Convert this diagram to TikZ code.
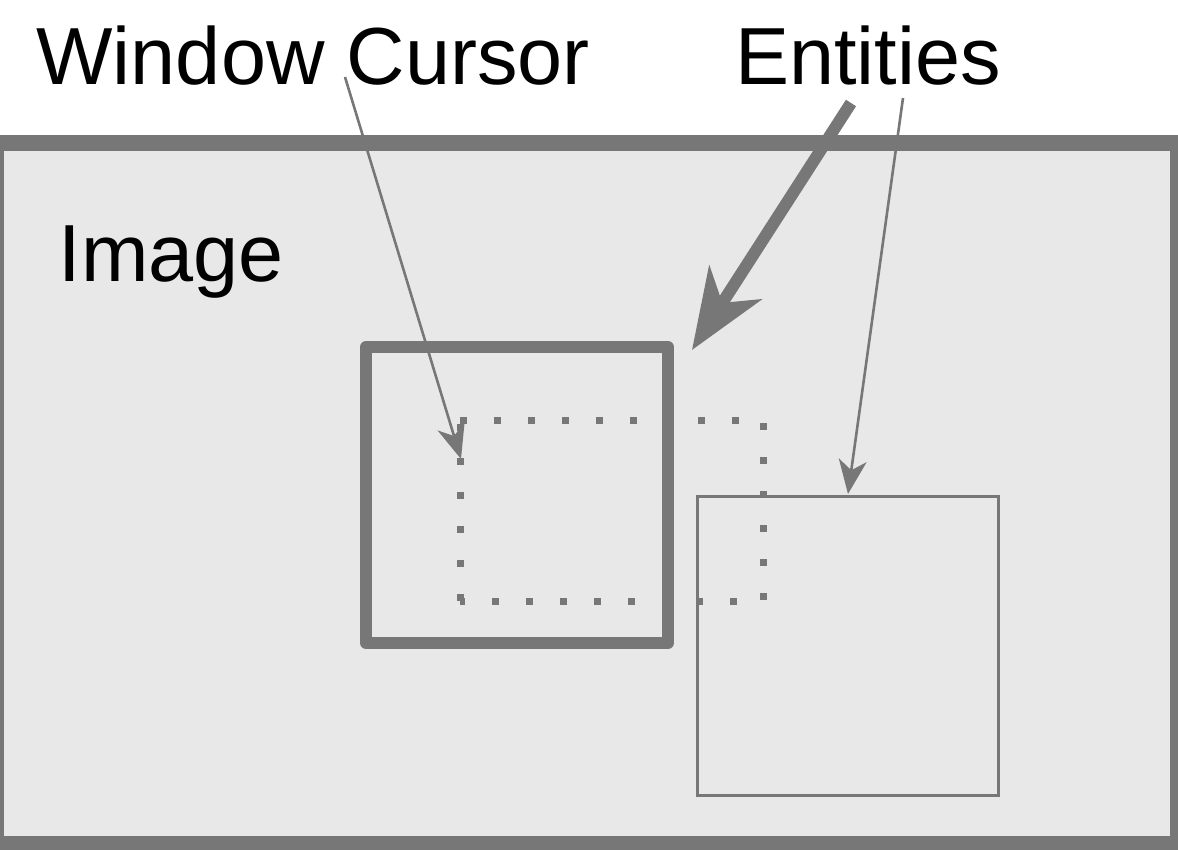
\documentclass[tikz,border=0pt]{standalone}
\usepackage{fontspec}
\setmainfont{Liberation Sans}
\usetikzlibrary{arrows.meta}
\definecolor{edge}{HTML}{777777}
\definecolor{paper}{HTML}{E8E8E8}
\begin{document}
\begin{tikzpicture}[x=1pt,y=-1pt,
  txt/.style={font=\fontsize{81}{97}\selectfont, inner sep=0pt, outer sep=0pt, anchor=base west, text=black},
  frame/.style={draw=edge, fill=paper, line width=16pt},
  cursorbox/.style={draw=edge, line width=12pt, line join=round},
  entitybox/.style={draw=edge, line width=3pt},
  dotbox/.style={draw=edge, line width=7pt, line cap=butt, dash pattern=on 7pt off 27pt},
  thinarrow/.style={draw=edge, line width=2.6pt, -{Stealth[length=34pt, width=28pt, inset=10pt]}},
  thickarrow/.style={draw=edge, line width=12pt, -{Stealth[length=80pt, width=62pt, inset=24pt]}}
]
\useasboundingbox (0,0) rectangle (1178,850);
\clip (0,0) rectangle (1178,850);
\fill[white] (0,0) rectangle (1178,850);
% image frame
\draw[frame] (-4,143.5) rectangle (1178,844);
% labels
\node[txt] (wc) at (36.5,85) {Window Cursor};
\node[txt] (ent) at (735,85) {Entities};
\node[txt] (img) at (58.5,282) {Image};
% boxes
\draw[cursorbox] (366,347) rectangle (668,643);
\coordinate (d1) at (460,420);
\coordinate (d2) at (763,420);
\coordinate (d3) at (763,601);
\coordinate (d4) at (460,601);
\draw[dotbox] (d1) -- (d2) -- (d3) -- (d4);
\draw[dotbox] (d4) -- (d1);
\draw[entitybox] (697,496) rectangle (998,795);
% arrow end points
\coordinate (wcs) at (345,77);
\coordinate (wct) at (461,459);
\coordinate (e1s) at (851,103);
\coordinate (e1t) at (692,350);
\coordinate (e2s) at (903,98);
\coordinate (e2t) at (848,494);
\draw[thinarrow] (wcs) -- (wct);
\draw[thickarrow] (e1s) -- (e1t);
\draw[thinarrow] (e2s) -- (e2t);
\end{tikzpicture}
\end{document}
